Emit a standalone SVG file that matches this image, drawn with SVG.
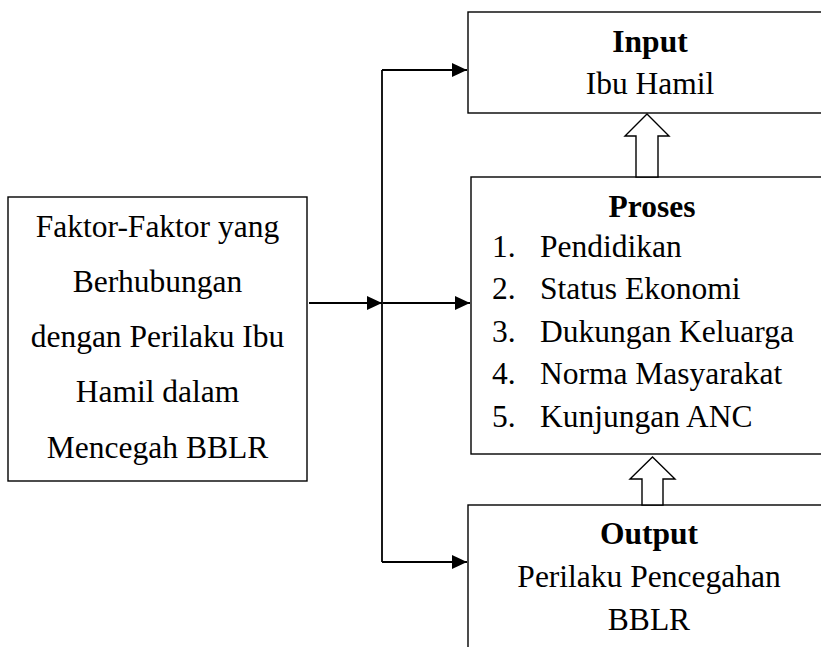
<svg xmlns="http://www.w3.org/2000/svg" width="821" height="647" viewBox="0 0 821 647">
<defs>
<style>
.box{fill:#fff;stroke:#000;stroke-width:1.4}
.t{font-family:"Liberation Serif","Times New Roman",serif;font-size:31.5px;fill:#000}
.c{text-anchor:middle}
.b{font-weight:bold}
.ln{fill:none;stroke:#000;stroke-width:1.8}
.hollow{fill:#fff;stroke:#000;stroke-width:1.4}
</style>
<marker id="ah" markerWidth="15" markerHeight="14" refX="15" refY="7" orient="auto" markerUnits="userSpaceOnUse">
<path d="M0,0 L15,7 L0,14 Z" fill="#000"/>
</marker>
</defs>
<rect width="821" height="647" fill="#fff"/>
<g id="faktor">
<rect class="box" x="8" y="197" width="299" height="284"/>
<text class="t c" x="157.5" y="237">Faktor-Faktor yang</text>
<text class="t c" x="157.5" y="292">Berhubungan</text>
<text class="t c" x="157.5" y="347">dengan Perilaku Ibu</text>
<text class="t c" x="157.5" y="402">Hamil dalam</text>
<text class="t c" x="157.5" y="458">Mencegah BBLR</text>
</g>
<g id="input">
<rect class="box" x="468" y="12" width="380" height="101"/>
<text class="t c b" x="650" y="52">Input</text>
<text class="t c" x="650" y="94">Ibu Hamil</text>
</g>
<g id="proses">
<rect class="box" x="471" y="177" width="380" height="277"/>
<text class="t c b" x="652" y="217">Proses</text>
<text class="t" x="492" y="257">1.</text><text class="t" x="540" y="257">Pendidikan</text>
<text class="t" x="492" y="299">2.</text><text class="t" x="540" y="299">Status Ekonomi</text>
<text class="t" x="492" y="342">3.</text><text class="t" x="540" y="342">Dukungan Keluarga</text>
<text class="t" x="492" y="384">4.</text><text class="t" x="540" y="384">Norma Masyarakat</text>
<text class="t" x="492" y="427">5.</text><text class="t" x="540" y="427">Kunjungan ANC</text>
</g>
<g id="output">
<rect class="box" x="468" y="505" width="380" height="160"/>
<text class="t c b" x="649" y="544">Output</text>
<text class="t c" x="649" y="587">Perilaku Pencegahan</text>
<text class="t c" x="649" y="630">BBLR</text>
</g>
<g id="connectors">
<path class="ln" d="M309,303 H382" marker-end="url(#ah)"/>
<path class="ln" d="M382,70 V562"/>
<path class="ln" d="M382,70 H467" marker-end="url(#ah)"/>
<path class="ln" d="M383,303 H470" marker-end="url(#ah)"/>
<path class="ln" d="M382,562 H467" marker-end="url(#ah)"/>
<path class="hollow" d="M636,177 V136 H625 L647,114 L669,136 H658 V177 Z"/>
<path class="hollow" d="M642,505 V479 H630 L652.5,457 L675,479 H663 V505 Z"/>
</g>
</svg>
